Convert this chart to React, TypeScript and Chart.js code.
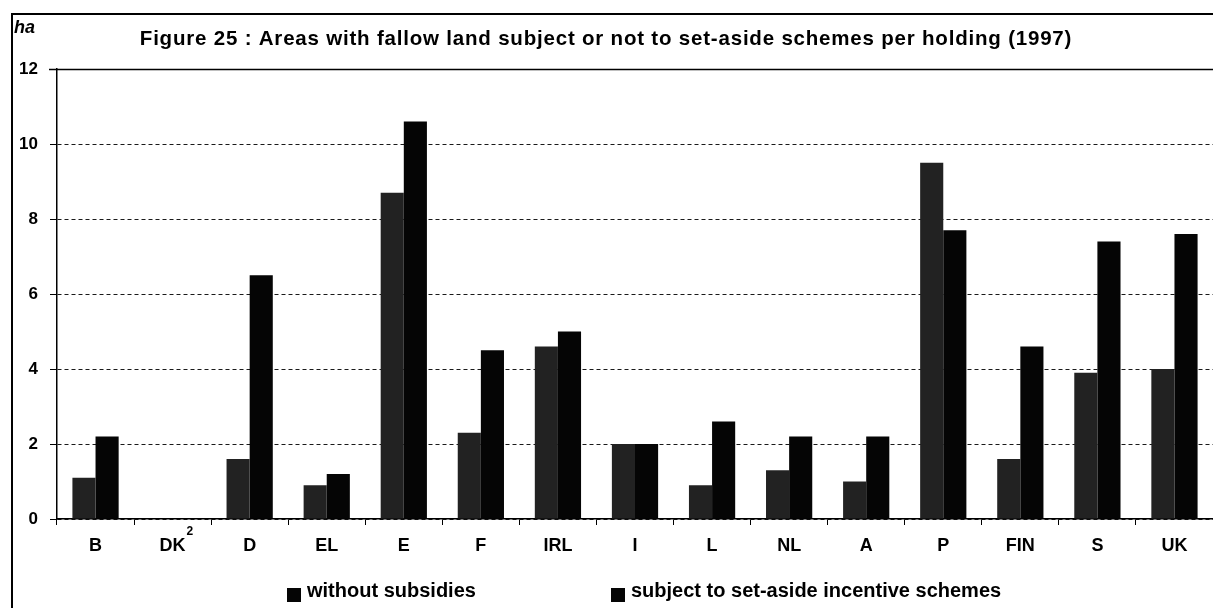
import React, { useEffect, useRef } from 'react';
import { Chart, registerables } from 'chart.js';

Chart.register(...registerables);

const categories = ['B', 'DK', 'D', 'EL', 'E', 'F', 'IRL', 'I', 'L', 'NL', 'A', 'P', 'FIN', 'S', 'UK'];
const withoutSubsidies = [1.1, 0, 1.6, 0.9, 8.7, 2.3, 4.6, 2.0, 0.9, 1.3, 1.0, 9.5, 1.6, 3.9, 4.0];
const setAsideSchemes = [2.2, 0, 6.5, 1.2, 10.6, 4.5, 5.0, 2.0, 2.6, 2.2, 2.2, 7.7, 4.6, 7.4, 7.6];
const seriesLabels = ['without subsidies', 'subject to set-aside incentive schemes'];
const seriesColors = ['#222222', '#050505'];
const yTickValues = [0, 2, 4, 6, 8, 10, 12];
const titleText = 'Figure 25 : Areas with fallow land subject or not to set-aside schemes per holding (1997)';
const unitLabel = 'ha';
const footnoteCategory = 'DK';
const footnoteMark = '2';

const FONT = '"Liberation Sans", Arial, Helvetica, sans-serif';
const W = 1213;
const H = 608;

const decorPlugin = {
  id: 'decor',
  beforeDraw(chart: any) {
    const ctx = chart.ctx;
    ctx.save();
    ctx.fillStyle = '#ffffff';
    ctx.fillRect(0, 0, chart.width, chart.height);
    ctx.restore();
  },
  afterDraw(chart: any) {
    const ctx = chart.ctx;
    const xs = chart.scales.x;
    const ys = chart.scales.y;
    const area = chart.chartArea;
    ctx.save();
    // outer frame
    ctx.strokeStyle = '#000';
    ctx.lineWidth = 2;
    ctx.beginPath();
    ctx.moveTo(12, 13);
    ctx.lineTo(12, H);
    ctx.moveTo(11, 14);
    ctx.lineTo(W, 14);
    ctx.stroke();
    // top solid line at max value
    const yTop = Math.round(ys.getPixelForValue(yTickValues[yTickValues.length - 1])) + 0.5;
    ctx.lineWidth = 1.5;
    ctx.beginPath();
    ctx.moveTo(area.left - 8, yTop);
    ctx.lineTo(W, yTop);
    ctx.stroke();

    // title
    ctx.fillStyle = '#000';
    ctx.font = `bold 20.5px ${FONT}`;
    try { (ctx as any).letterSpacing = '0.8px'; } catch (e) { /* ignore */ }
    ctx.textAlign = 'center';
    ctx.textBaseline = 'alphabetic';
    ctx.fillText(titleText, 606, 45);
    try { (ctx as any).letterSpacing = '0px'; } catch (e) { /* ignore */ }

    // unit label
    ctx.font = `italic bold 18px ${FONT}`;
    ctx.textAlign = 'left';
    ctx.fillText(unitLabel, 14, 33);

    // footnote mark
    const idx = categories.indexOf(footnoteCategory);
    if (idx >= 0) {
      ctx.font = `bold 18px ${FONT}`;
      const w = ctx.measureText(footnoteCategory).width;
      const cx = xs.getPixelForValue(idx);
      ctx.font = `bold 12px ${FONT}`;
      ctx.textAlign = 'left';
      ctx.fillText(footnoteMark, cx + w / 2 + 1, 535);
    }

    // legend
    const legendX = [287, 611];
    ctx.font = `bold 20px ${FONT}`;
    ctx.textBaseline = 'alphabetic';
    seriesLabels.forEach((lab, i) => {
      ctx.fillStyle = '#050505';
      ctx.fillRect(legendX[i], 588, 14, 14);
      ctx.fillStyle = '#000';
      ctx.textAlign = 'left';
      ctx.fillText(lab, legendX[i] + 20, 597);
    });
    ctx.restore();
  },
};

export default function App() {
  const ref = useRef<HTMLCanvasElement>(null);
  useEffect(() => {
    document.body.style.margin = '0';
    const canvas = ref.current;
    if (!canvas) return;
    const chart = new Chart(canvas, {
      type: 'bar',
      data: {
        labels: categories,
        datasets: [
          {
            label: seriesLabels[0],
            data: withoutSubsidies,
            backgroundColor: seriesColors[0],
            borderWidth: 0,
            categoryPercentage: 0.6,
            barPercentage: 1.0,
          },
          {
            label: seriesLabels[1],
            data: setAsideSchemes,
            backgroundColor: seriesColors[1],
            borderWidth: 0,
            categoryPercentage: 0.6,
            barPercentage: 1.0,
          },
        ],
      },
      options: {
        responsive: false,
        animation: false,
        devicePixelRatio: 1,
        layout: { padding: { left: 0, right: 0, top: 69, bottom: 0 } },
        plugins: {
          legend: { display: false },
          title: { display: false },
          tooltip: { enabled: false },
        },
        scales: {
          x: {
            afterFit: (s: any) => { s.height = 89; },
            grid: {
              offset: true,
              drawOnChartArea: false,
              drawTicks: true,
              tickLength: 6,
              color: '#000',
              lineWidth: 1,
            },
            border: { display: true, color: '#000', width: 1.5 },
            ticks: {
              color: '#000',
              font: { family: FONT, size: 18, weight: 'bold' },
              padding: 10,
              maxRotation: 0,
              autoSkip: false,
            },
          },
          y: {
            min: 0,
            max: 12,
            afterFit: (s: any) => { s.width = 57; },
            afterBuildTicks: (s: any) => { s.ticks = yTickValues.map((v) => ({ value: v })); },
            grid: {
              color: '#1a1a1a',
              lineWidth: 1,
              drawTicks: true,
              tickLength: 7,
              tickColor: '#000',
            },
            border: { display: true, color: '#000', width: 1.5, dash: [4, 3] },
            ticks: {
              color: '#000',
              font: { family: FONT, size: 17, weight: 'bold' },
              padding: 12,
              align: 'center',
            },
          },
        },
      },
      plugins: [decorPlugin],
    } as any);
    return () => chart.destroy();
  }, []);
  return (
    <div style={{ width: W, height: H }}>
      <canvas ref={ref} width={W} height={H} style={{ width: W, height: H, display: 'block' }} />
    </div>
  );
}
